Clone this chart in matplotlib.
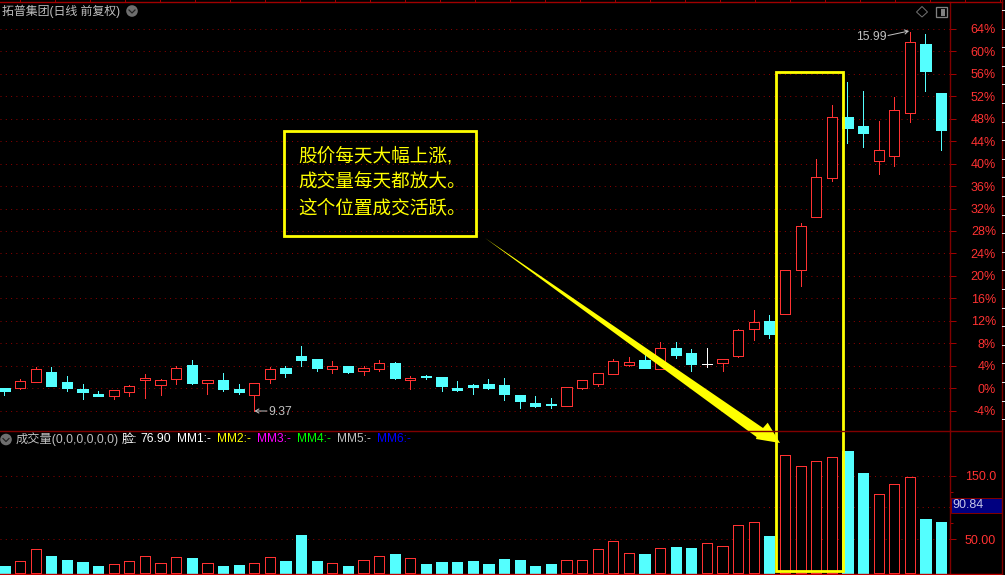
import matplotlib
matplotlib.use('Agg')
import matplotlib.pyplot as plt
import numpy as np
from matplotlib.patches import Circle, Polygon, Rectangle

plt.rcParams['font.family'] = ['Liberation Sans', 'Noto Sans CJK SC', 'DejaVu Sans']

# candles, in percent against the reference close
opens = [0.06, 0.12, 1.19, 2.85, 1.13, -0.12, -1.01, -1.31, -0.59, 1.54, 0.65, 1.72, 4.15, 1.01, 1.48, -0.12,
         -1.25, 1.72, 3.62, 5.76, 5.22, 3.44, 3.98, 3.03, 3.50, 4.51, 1.48, 2.20, 2.02, 0.06, 0.59, 0.77, 0.59,
         -1.19, -2.61, -2.79, -3.09, 0.06, 0.83, 2.61, 4.21, 5.04, 3.50, 7.12, 6.29, 4.27, 4.57, 5.77, 10.58,
         11.95, 13.14, 20.98, 30.53, 37.47, 48.23, 46.68, 40.50, 41.39, 49.05, 61.28, 52.55]
closes = [-0.42, 1.25, 3.38, 0.47, 0.06, -0.59, -1.31, -0.36, 0.36, 1.78, 1.42, 3.56, 0.95, 1.42, -0.12, -0.65,
          0.89, 3.38, 2.73, 5.04, 3.68, 3.92, 2.91, 3.62, 4.45, 1.84, 1.84, 2.02, 0.42, -0.30, 0.24, 0.06, -1.01,
          -2.26, -3.15, -2.91, 0.18, 1.42, 2.67, 4.81, 4.63, 3.62, 7.12, 5.93, 4.33, 4.27, 5.16, 10.35, 11.72,
          9.69, 20.98, 28.82, 37.54, 48.23, 46.32, 45.43, 42.35, 49.47, 61.59, 56.47, 45.97]
highs = [0.06, 1.66, 3.74, 3.74, 2.20, 0.77, -0.42, -0.36, 0.59, 2.55, 1.66, 3.98, 5.04, 1.54, 2.73, 0.77,
         0.89, 3.74, 3.98, 7.54, 5.22, 4.81, 3.98, 3.98, 5.04, 4.69, 2.20, 2.37, 2.02, 1.31, 0.77, 1.66, 1.84,
         -1.19, -1.37, -1.72, 0.18, 1.42, 2.67, 5.22, 5.58, 5.93, 8.25, 8.25, 7.00, 7.18, 5.16, 10.53, 13.91,
         13.02, 20.98, 29.40, 40.75, 50.42, 54.51, 52.91, 47.52, 51.79, 63.37, 63.06, 52.55]
lows = [-1.19, -0.12, 1.19, 0.47, -0.42, -1.90, -1.31, -1.90, -1.31, -1.66, -1.19, 0.83, 0.77, -1.01, -0.42, -1.01,
        -4.04, 0.95, 2.08, 3.98, 3.09, 2.79, 2.73, 2.37, 3.09, 1.66, -0.12, 1.66, -0.47, -0.47, -1.01, -0.12, -2.08,
        -3.50, -3.32, -3.50, -3.09, -0.12, 0.42, 2.61, 3.98, 3.62, 3.50, 5.40, 3.09, 3.80, 3.09, 5.54, 8.62,
        8.98, 13.14, 18.24, 30.53, 36.88, 43.60, 42.94, 38.18, 39.61, 47.44, 52.91, 42.40]
volumes = [8.1, 15.4, 34.3, 23.8, 17.5, 14.4, 8.1, 10.7, 15.4, 23.3, 12.3, 21.7, 20.7, 12.3, 8.1, 9.7,
           12.3, 21.7, 16.0, 56.8, 16.0, 12.3, 8.1, 17.0, 23.3, 27.0, 20.2, 11.3, 14.4, 14.4, 16.0, 11.3, 19.1,
           17.5, 8.1, 11.3, 17.0, 17.0, 34.3, 46.9, 28.0, 27.0, 35.9, 38.0, 36.4, 43.7, 39.0, 72.0, 76.7,
           55.2, 181.9, 164.7, 172.5, 178.8, 188.7, 154.2, 120.7, 136.4, 147.4, 81.9, 76.9]

pct_ticks = list(range(-4, 68, 4))
pct_labels = [f'{p}%' for p in pct_ticks]
vol_ticks = [50, 100, 150]
vol_labels = ['50.00', '', '150.0']
vol_minor = [75, 125]

title = '拓普集团(日线 前复权)'
vol_title = '成交量(0,0,0,0,0,0)'
legend_names = ['MM1:', 'MM2:', 'MM3:', 'MM4:', 'MM5:', 'MM6:']
legend_x = [176.7, 216.7, 256.7, 296.7, 336.7, 376.7]
legend_colors = ['#ffffff', '#ffff00', '#ff00ff', '#00ff00', '#c0c0c0', '#0000ff']
note_lines = ['股价每天大幅上涨,', '成交量每天都放大。', '这个位置成交活跃。']

RED = '#ff3232'
CYAN = '#54ffff'
DARK = '#800000'
GRAY = '#c0c0c0'
YELLOW = '#ffff00'
W, H = 1005, 575
PX = 72 / 100  # one pixel in points

x = np.arange(len(closes))
o = np.array(opens)
c = np.array(closes)
xlim = (-0.288, 60.57)

fig = plt.figure(figsize=(W / 100, H / 100), dpi=100, facecolor='black')


def make_axes(top, bottom):
    ax = fig.add_axes([0, (H - bottom) / H, 950 / W, (bottom - top) / H], facecolor='black')
    ax.set_xlim(xlim)
    ax.set_xticks([])
    ax.yaxis.tick_right()
    for side in ['left', 'bottom', 'top']:
        ax.spines[side].set_visible(False)
    ax.spines['right'].set_color(DARK)
    ax.spines['right'].set_linewidth(1.4 * PX)
    ax.tick_params(axis='y', which='major', length=5.5 * PX, width=PX, color='#a00000',
                   labelcolor=RED, labelsize=9, pad=46 * PX - 5.5 * PX)
    ax.grid(axis='y', color='#8c0000', linestyle=(0, (1, 4.3)), linewidth=PX)
    ax.set_axisbelow(True)
    return ax


# price panel
ax = make_axes(1.5, 431)
ax.set_ylim(-7.62, 68.87)
ax.set_yticks(pct_ticks, pct_labels)
for lab in ax.get_yticklabels():
    lab.set_ha('right')

colors = np.where(c > o, RED, np.where(c < o, CYAN, '#ffffff'))
ax.vlines(x, lows, highs, colors=colors, linewidth=0.9 * PX, zorder=2, antialiased=False)
faces = np.where(c < o, CYAN, 'black')
ax.bar(x, c - o, bottom=o, width=10.2 / 15.61, facecolor=faces, edgecolor=colors,
       linewidth=0.9 * PX, zorder=3, antialiased=False)

# volume panel
vol_floor = -3
vx = make_axes(431, 574)
vx.set_ylim(-4.5, 220.2)
vx.set_yticks(vol_ticks, vol_labels)
vx.set_yticks(vol_minor, minor=True)
vx.tick_params(axis='y', which='minor', length=3 * PX, width=PX, color='#a00000')
for lab in vx.get_yticklabels():
    lab.set_ha('right')
vol_edges = np.where(c < o, CYAN, RED)
vx.bar(x, np.array(volumes) - vol_floor, bottom=vol_floor, width=10.2 / 15.61, facecolor=faces,
       edgecolor=vol_edges, linewidth=0.9 * PX, zorder=3, antialiased=False)

# everything else is drawn in screen pixels on top
top = fig.add_axes([0, 0, 1, 1], facecolor='none', zorder=10)
top.set_xlim(0, W)
top.set_ylim(H, 0)
top.axis('off')

top.plot([0, 1002], [1.5, 1.5], color='#a00000', lw=1.4 * PX)
top.plot([0, 1002], [431, 431], color=DARK, lw=1.4 * PX)
top.plot([0, 1002], [574, 574], color='#c00000', lw=1.4 * PX)
top.plot([1002, 1002], [0, 575], color=DARK, lw=1.4 * PX)
for tx in np.arange(19.5, 1000, 35):
    top.plot([tx, tx], [0, 1.5], color='#a00000', lw=PX)
for ty in np.arange(10, 431, 18.6):
    top.plot([1002, 1005], [ty, ty], color='#e0e0e0', lw=PX)

# value box on the volume axis
top.add_patch(Rectangle((951, 498), 51, 15, facecolor='#000080', edgecolor=DARK, lw=PX))
top.text(952, 505.5, '90.84', color='#c8c8e8', fontsize=9, va='center', ha='left')

# header texts and round buttons
top.text(2, 11, title, color=GRAY, fontsize=8.6, va='center', ha='left')
for bx, by in [(132, 11), (6, 439.5)]:
    top.add_patch(Circle((bx, by), 5.8, facecolor='#6e6e6e', edgecolor='none'))
    top.plot([bx - 3, bx, bx + 3], [by - 1, by + 2, by - 1], color='#202020', lw=1.2 * PX)
top.text(16, 439.5, vol_title, color=GRAY, fontsize=8.8, va='center', ha='left')
top.text(122, 439.5, '脸:', color='#ffffff', fontsize=8.8, va='center', ha='left')
top.text(140.5, 439.5, '76.90', color='#ffffff', fontsize=8.8, va='center', ha='left')
for name, lx, col in zip(legend_names, legend_x, legend_colors):
    top.text(lx, 439.5, name, color=col, fontsize=8.6, va='center', ha='left')
    top.text(lx + 30, 439.5, '-', color=col, fontsize=8.6, va='center', ha='left')

# top right icons
top.add_patch(Polygon([(922, 6.5), (927.5, 12), (922, 17), (916.5, 12)], fill=False, edgecolor='#707070', lw=PX))
top.add_patch(Rectangle((935.5, 7), 11, 10, fill=False, edgecolor='#808080', lw=1.3 * PX))
top.add_patch(Rectangle((941, 8.5), 4, 7, facecolor='#808080', edgecolor='none'))

# high / low notes
top.text(268, 412, '9.37', color=GRAY, fontsize=8.8, va='center', ha='left')
top.annotate('', xy=(254.5, 411), xytext=(267, 411),
             arrowprops=dict(arrowstyle='->,head_length=0.25,head_width=0.15', color=GRAY, lw=PX, shrinkA=0, shrinkB=0))
top.text(856, 36.5, '15.99', color=GRAY, fontsize=8.8, va='center', ha='left')
top.annotate('', xy=(909, 31), xytext=(888, 35.5),
             arrowprops=dict(arrowstyle='->,head_length=0.25,head_width=0.15', color=GRAY, lw=PX, shrinkA=0, shrinkB=0))

# yellow frame around the four candles
top.add_patch(Rectangle((776.3, 72), 66.7, 498.5, fill=False, edgecolor=YELLOW, lw=2.8 * PX))

# callout
top.add_patch(Rectangle((284, 130.5), 191.5, 105, fill=False, edgecolor=YELLOW, lw=2.8 * PX))
for line, ly in zip(note_lines, [156, 182, 208]):
    top.text(298.5, ly, line, color=YELLOW, fontsize=13.4, va='center', ha='left')

# big arrow
top.add_patch(Polygon([(485, 238), (763, 428), (767.7, 422.7), (780, 443), (756, 439), (756.5, 437)],
                      facecolor=YELLOW, edgecolor='none'))

fig.savefig('out.png', dpi=100, facecolor='black')
